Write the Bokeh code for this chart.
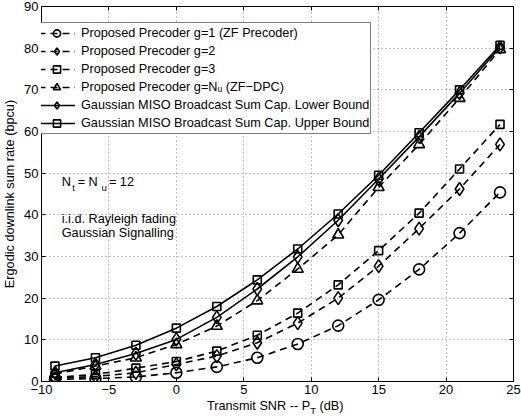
from bokeh.plotting import figure
from bokeh.models import Label, LinearAxis, FixedTicker, Div
from bokeh.layouts import column
from bokeh.embed import file_html
from bokeh.resources import INLINE

# ---- data ----
snr_db = [-9, -6, -3, 0, 3, 6, 9, 12, 15, 18, 21, 24]
g1 = [0.5, 0.7, 1.1, 2.1, 3.5, 5.7, 9.0, 13.4, 19.6, 26.9, 35.6, 45.4]
g2 = [0.8, 1.2, 2.1, 4.1, 6.1, 9.3, 14.0, 20.0, 27.7, 36.7, 46.2, 56.9]
g3 = [1.0, 1.7, 3.2, 4.8, 7.3, 11.1, 16.4, 23.2, 31.4, 40.4, 51.0, 61.7]
zf_dpc = [1.8, 3.7, 5.7, 8.9, 13.3, 19.4, 27.0, 35.2, 46.6, 56.9, 68.0, 79.7]
lower_bound = [2.1, 4.1, 6.7, 10.1, 15.4, 22.2, 29.9, 38.7, 48.6, 58.7, 69.2, 80.2]
upper_bound = [3.7, 5.7, 8.7, 12.8, 18.0, 24.4, 31.8, 40.2, 49.5, 59.7, 70.0, 80.7]

x_ticks = [-10, -5, 0, 5, 10, 15, 20, 25]
y_ticks = [0, 10, 20, 30, 40, 50, 60, 70, 80, 90]

FONT = "Liberation Sans"
TXT = "12.7px"

p = figure(width=521, height=401, x_range=(-10, 25), y_range=(0, 90),
           output_backend="svg", toolbar_location=None,
           min_border_left=39, min_border_right=8, min_border_top=6, min_border_bottom=20)
p.background_fill_color = "white"
p.border_fill_color = "white"
p.outline_line_color = "black"
p.outline_line_width = 1

for ax in (p.xaxis[0], p.yaxis[0]):
    ax.major_tick_in = 4
    ax.major_tick_out = 0
    ax.minor_tick_line_color = None
    ax.axis_line_color = "black"
    ax.major_tick_line_color = "black"
    ax.major_label_text_font = FONT
    ax.major_label_text_font_size = "13px"
    ax.major_label_text_color = "black"
    ax.major_label_standoff = 3

p.xaxis.ticker = FixedTicker(ticks=x_ticks)
p.yaxis.ticker = FixedTicker(ticks=y_ticks)
p.xaxis.major_label_overrides = {-10: "\u221210", -5: "\u22125"}
p.xaxis.axis_label_standoff = 0

p.yaxis.axis_label = "Ergodic downlink sum rate (bpcu)"
p.yaxis.axis_label_text_font = FONT
p.yaxis.axis_label_text_font_size = TXT
p.yaxis.axis_label_text_font_style = "normal"
p.yaxis.axis_label_text_color = "black"
p.yaxis.axis_label_standoff = 4

p.xgrid.ticker = FixedTicker(ticks=x_ticks)
p.ygrid.ticker = FixedTicker(ticks=y_ticks)
for g in (p.xgrid, p.ygrid):
    g.grid_line_color = "black"
    g.grid_line_alpha = 0.5
    g.grid_line_dash = "1 3"
    g.grid_line_width = 1

# top / right ticks (MATLAB box), without labels
top = LinearAxis(ticker=FixedTicker(ticks=x_ticks), major_label_text_font_size="0px",
                 major_label_text_color=None, axis_label_standoff=0,
                 major_tick_in=4, major_tick_out=0, minor_tick_line_color=None,
                 major_label_standoff=0, axis_line_color="black")
right = LinearAxis(ticker=FixedTicker(ticks=y_ticks), major_label_text_font_size="0px",
                   major_label_text_color=None, axis_label_standoff=0,
                   major_tick_in=4, major_tick_out=0, minor_tick_line_color=None,
                   major_label_standoff=0, axis_line_color="black")
p.add_layout(top, "above")
p.add_layout(right, "right")

series = [
    (g1, "circle", 11, "dashed", "Proposed Precoder g=1 (ZF Precoder)"),
    (g2, "diamond", 13, "dashed", "Proposed Precoder g=2"),
    (g3, "square", 8, "dashed", "Proposed Precoder g=3"),
    (zf_dpc, "triangle", 11, "dashed", "Proposed Precoder g=N\u1d64 (ZF\u2212DPC)"),
    (lower_bound, "diamond", 13, "solid", "Gaussian MISO Broadcast Sum Cap. Lower Bound"),
    (upper_bound, "square", 8, "solid", "Gaussian MISO Broadcast Sum Cap. Upper Bound"),
]

for ys, marker, size, style, label in series:
    dash = "7 5" if style == "dashed" else "solid"
    p.line(snr_db, ys, line_color="black", line_width=1.6, line_dash=dash, legend_label=label)
    p.scatter(snr_db, ys, marker=marker, size=size, line_color="black", line_width=1.6,
              fill_alpha=0, legend_label=label)

leg = p.legend[0]
leg.location = (-5, 247)
leg.label_text_font = FONT
leg.label_text_font_size = TXT
leg.label_text_color = "black"
leg.glyph_width = 37
leg.glyph_height = 18
leg.label_height = 18
leg.label_standoff = 6
leg.spacing = 0
leg.padding = 1
leg.margin = 0
leg.border_line_color = "black"
leg.border_line_width = 1
leg.background_fill_color = "white"
leg.background_fill_alpha = 1

def lab(x, y, text, size=TXT, **kw):
    p.add_layout(Label(x=x, y=y, text=text, text_font=FONT, text_font_size=size,
                       text_color="black", text_baseline="middle", **kw))

# annotations
lab(-8.5, 47.8, "N")
lab(-7.72, 46.6, "t", size="9.5px")
lab(-7.32, 47.8, "= N")
lab(-5.55, 46.6, "u", size="9.5px")
lab(-5.0, 47.8, "= 12")
lab(-8.5, 39.0, "i.i.d. Rayleigh fading")
lab(-8.5, 35.6, "Gaussian Signalling")

# x axis label with subscript, as HTML below the figure
xlabel = Div(
    text=('<div style="font-family:\'Liberation Sans\',Arial,sans-serif;font-size:12.7px;'
          'line-height:10px;padding-left:207px;position:relative;top:-3px;'
          'color:black;white-space:nowrap;">'
          'Transmit SNR -- P<sub style="font-size:9.5px;line-height:0;vertical-align:-4px;">T</sub> (dB)'
          '</div>'),
    width=521, height=10, margin=0)

layout = column(p, xlabel, spacing=0)

open("out.html", "w").write(file_html(layout, INLINE))
